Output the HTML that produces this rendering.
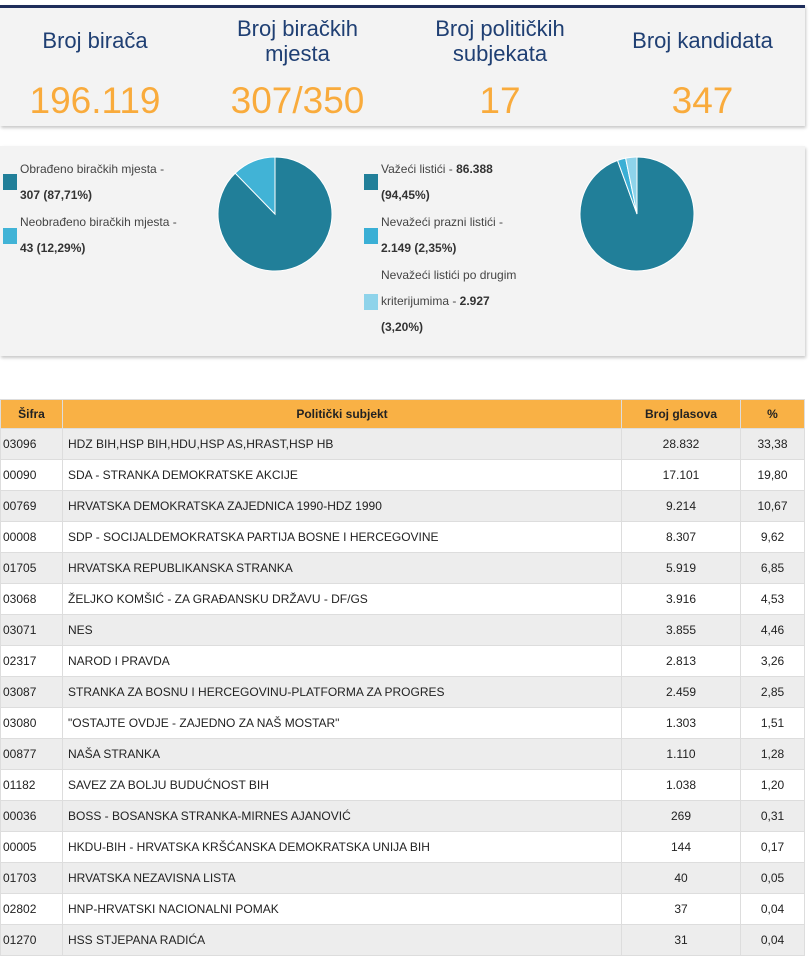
<!DOCTYPE html>
<html><head><meta charset="utf-8">
<style>
body{margin:0;width:810px;height:964px;background:#fff;font-family:"Liberation Sans",sans-serif;position:relative;overflow:hidden}
.card{position:absolute;background:#f3f3f3;box-shadow:1px 2px 3px #c8c8c8}
.stat{position:absolute;text-align:center;color:#1f3f73;font-size:22px;line-height:25px}
.num{position:absolute;text-align:center;color:#f9ab3c;font-size:37px;line-height:40px}
.lg{position:absolute;font-size:12px;color:#444;line-height:26px}
.lg b{color:#333}
.sw{position:absolute;width:14px;height:16px}
table{position:absolute;left:0;top:399px;width:805px;border-collapse:collapse;font-size:12px;color:#222}
th{background:#f9b145;height:28px;font-weight:bold;font-size:12px;border:1px solid #ddd;padding:0}
td{height:30px;border:1px solid #ddd;padding:0 5px}
tr.g td{background:#ededed}
</style></head><body>
<div class="card" style="left:0;top:5px;width:805px;height:118px;border-top:3px solid #1e2d5a"></div>
<div class="stat" style="left:0;top:28px;width:190px">Broj birača</div>
<div class="stat" style="left:200px;top:16px;width:195px">Broj biračkih<br>mjesta</div>
<div class="stat" style="left:400px;top:16px;width:200px">Broj političkih<br>subjekata</div>
<div class="stat" style="left:600px;top:28px;width:205px">Broj kandidata</div>
<div class="num" style="left:0;top:81px;width:190px">196.119</div>
<div class="num" style="left:200px;top:81px;width:195px">307/350</div>
<div class="num" style="left:400px;top:81px;width:200px">17</div>
<div class="num" style="left:600px;top:81px;width:205px">347</div>

<div class="card" style="left:0;top:146px;width:805px;height:210px"></div>
<div class="sw" style="left:3px;top:174px;background:#217f99"></div>
<div class="lg" style="left:20px;top:156px">Obrađeno biračkih mjesta -<br><b>307 (87,71%)</b></div>
<div class="sw" style="left:3px;top:228px;background:#41b3d6"></div>
<div class="lg" style="left:20px;top:209px">Neobrađeno biračkih mjesta -<br><b>43 (12,29%)</b></div>
<div class="sw" style="left:364px;top:174px;background:#217f99"></div>
<div class="lg" style="left:381px;top:156px">Važeći listići - <b>86.388</b><br><b>(94,45%)</b></div>
<div class="sw" style="left:364px;top:228px;background:#3aafd5"></div>
<div class="lg" style="left:381px;top:209px">Nevažeći prazni listići -<br><b>2.149 (2,35%)</b></div>
<div class="sw" style="left:364px;top:294px;background:#8ed3ea"></div>
<div class="lg" style="left:381px;top:262px">Nevažeći listići po drugim<br>kriterijumima - <b>2.927</b><br><b>(3,20%)</b></div>
<svg id="pies" style="position:absolute;left:0;top:0" width="810" height="360"></svg>

<table id="tbl">
<tr><th style="width:61px">Šifra</th><th>Politički subjekt</th><th style="width:118px">Broj glasova</th><th style="width:63px">%</th></tr>
</table>
<script>
const pie1Values=[87.71,12.29];
const pie1Colors=["#217f99","#41b3d6"];
const pie2Values=[94.45,2.35,3.20];
const pie2Colors=["#217f99","#3aafd5","#8ed3ea"];
const codes=["03096","00090","00769","00008","01705","03068","03071","02317","03087","03080","00877","01182","00036","00005","01703","02802","01270"];
const names=["HDZ BIH,HSP BIH,HDU,HSP AS,HRAST,HSP HB","SDA - STRANKA DEMOKRATSKE AKCIJE","HRVATSKA DEMOKRATSKA ZAJEDNICA 1990-HDZ 1990","SDP - SOCIJALDEMOKRATSKA PARTIJA BOSNE I HERCEGOVINE","HRVATSKA REPUBLIKANSKA STRANKA","ŽELJKO KOMŠIĆ - ZA GRAĐANSKU DRŽAVU - DF/GS","NES","NAROD I PRAVDA","STRANKA ZA BOSNU I HERCEGOVINU-PLATFORMA ZA PROGRES","\"OSTAJTE OVDJE - ZAJEDNO ZA NAŠ MOSTAR\"","NAŠA STRANKA","SAVEZ ZA BOLJU BUDUĆNOST BIH","BOSS - BOSANSKA STRANKA-MIRNES AJANOVIĆ","HKDU-BIH - HRVATSKA KRŠĆANSKA DEMOKRATSKA UNIJA BIH","HRVATSKA NEZAVISNA LISTA","HNP-HRVATSKI NACIONALNI POMAK","HSS STJEPANA RADIĆA"];
const votes=["28.832","17.101","9.214","8.307","5.919","3.916","3.855","2.813","2.459","1.303","1.110","1.038","269","144","40","37","31"];
const pcts=["33,38","19,80","10,67","9,62","6,85","4,53","4,46","3,26","2,85","1,51","1,28","1,20","0,31","0,17","0,05","0,04","0,04"];

const svg=document.getElementById('pies');
function drawPie(vals,cols,cx,cy,r,name){
  const tot=vals.reduce((a,b)=>a+b,0);let a0=0;
  vals.forEach((v,i)=>{
    const a1=a0+v/tot*2*Math.PI;
    const x0=cx+r*Math.sin(a0),y0=cy-r*Math.cos(a0),x1=cx+r*Math.sin(a1),y1=cy-r*Math.cos(a1);
    const p=document.createElementNS('http://www.w3.org/2000/svg','path');
    p.setAttribute('d',`M${cx},${cy}L${x0},${y0}A${r},${r} 0 ${a1-a0>Math.PI?1:0} 1 ${x1},${y1}Z`);
    p.setAttribute('fill',cols[i]);p.setAttribute('stroke','#fff');p.setAttribute('stroke-width','1');
    
    
    svg.appendChild(p);a0=a1;
  });
}
drawPie(pie1Values,pie1Colors,275,214,57,'pie-polling-stations');
drawPie(pie2Values,pie2Colors,637,214,57,'pie-ballots');

const tbl=document.getElementById('tbl');
codes.forEach((c,i)=>{
  const tr=document.createElement('tr');
  
  
  if(i%2==0)tr.className='g';
  tr.innerHTML=`<td style="padding:0 0 0 2px">${c}</td><td>${names[i]}</td><td style="text-align:center">${votes[i]}</td><td style="text-align:center">${pcts[i]}</td>`;
  tbl.appendChild(tr);
});
</script>
</body></html>
